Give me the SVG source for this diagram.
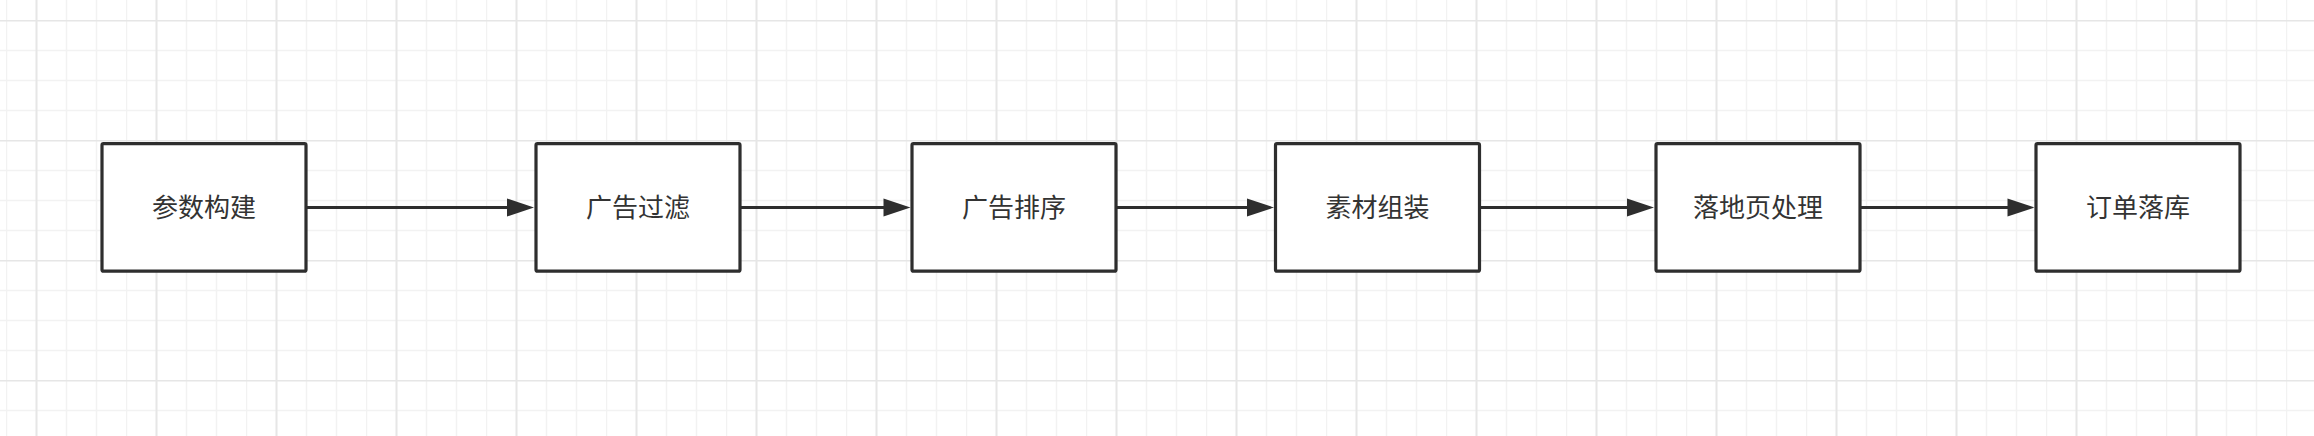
<svg xmlns="http://www.w3.org/2000/svg" width="2314" height="436" viewBox="0 0 2314 436">
  <style>
    .minor { stroke: #f2f2f2; stroke-width: 1.5; fill: none; }
    .major { stroke: #e6e6e6; stroke-width: 2; fill: none; }
    .box { fill: #ffffff; stroke: #2e2e2e; stroke-width: 3.2; }
    .label { font-family: "Liberation Sans", "Noto Sans CJK SC", sans-serif; font-size: 26px; fill: #333333; text-anchor: middle; }
    .edge { stroke: #2e2e2e; stroke-width: 3.2; fill: none; }
    .head { fill: #2e2e2e; }
  </style>
  <defs>
    <pattern id="grid" patternUnits="userSpaceOnUse" x="6" y="20" width="120" height="120">
      <path class="minor" d="M0.5 0V120M60.5 0V120M90.5 0V120M0 30.5H120M0 60.5H120M0 90.5H120"/>
      <path class="major" d="M30.5 0V120M0 0.5H120"/>
    </pattern>
  </defs>
  <rect x="0" y="0" width="2314" height="436" fill="#ffffff"/>
  <rect x="0" y="0" width="2314" height="436" fill="url(#grid)"/>

  <g id="connectors">
    <path class="edge" d="M306 207.5H510"/>
    <polygon class="head" points="534,207.5 507,198.5 507,216.5"/>
    <path class="edge" d="M740 207.5H886"/>
    <polygon class="head" points="910.5,207.5 883.5,198.5 883.5,216.5"/>
    <path class="edge" d="M1116 207.5H1250"/>
    <polygon class="head" points="1274,207.5 1247,198.5 1247,216.5"/>
    <path class="edge" d="M1479.5 207.5H1630"/>
    <polygon class="head" points="1654,207.5 1627,198.5 1627,216.5"/>
    <path class="edge" d="M1860 207.5H2010"/>
    <polygon class="head" points="2034.5,207.5 2007.5,198.5 2007.5,216.5"/>
  </g>

  <g id="n1"><rect class="box" x="102" y="143.7" width="204" height="127.5" rx="1.5"/><text class="label" x="204" y="216.5">参数构建</text></g>
  <g id="n2"><rect class="box" x="536" y="143.7" width="204" height="127.5" rx="1.5"/><text class="label" x="638" y="216.5">广告过滤</text></g>
  <g id="n3"><rect class="box" x="912" y="143.7" width="204" height="127.5" rx="1.5"/><text class="label" x="1014" y="216.5">广告排序</text></g>
  <g id="n4"><rect class="box" x="1275.5" y="143.7" width="204" height="127.5" rx="1.5"/><text class="label" x="1377.5" y="216.5">素材组装</text></g>
  <g id="n5"><rect class="box" x="1656" y="143.7" width="204" height="127.5" rx="1.5"/><text class="label" x="1758" y="216.5">落地页处理</text></g>
  <g id="n6"><rect class="box" x="2036" y="143.7" width="204" height="127.5" rx="1.5"/><text class="label" x="2138" y="216.5">订单落库</text></g>
</svg>
